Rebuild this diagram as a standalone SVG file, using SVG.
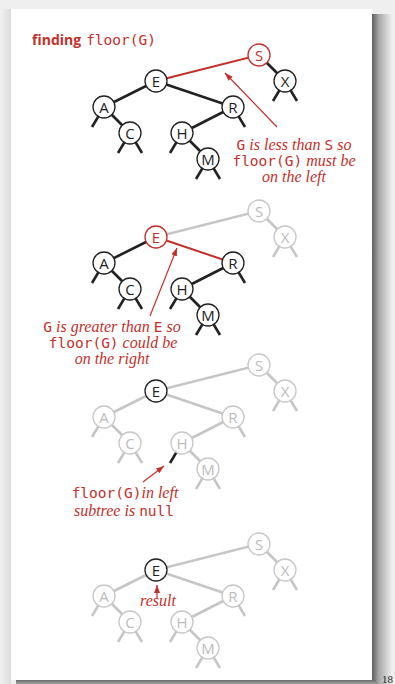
<svg xmlns="http://www.w3.org/2000/svg" width="395" height="684" viewBox="0 0 395 684">
  <defs>
    <linearGradient id="shadowRight" x1="0" y1="0" x2="1" y2="0">
      <stop offset="0" stop-color="#5e5e5e"/>
      <stop offset="0.35" stop-color="#a8a8a8"/>
      <stop offset="1" stop-color="#efefef"/>
    </linearGradient>
    <linearGradient id="shadowBottom" x1="0" y1="0" x2="0" y2="1">
      <stop offset="0" stop-color="#6a6a6a"/>
      <stop offset="1" stop-color="#a0a0a0"/>
    </linearGradient>
    <linearGradient id="shadowLeft" x1="0" y1="0" x2="1" y2="0">
      <stop offset="0" stop-color="#f0f0f0"/>
      <stop offset="1" stop-color="#dcdcdc"/>
    </linearGradient>
    <marker id="arrow" markerUnits="userSpaceOnUse" markerWidth="10" markerHeight="8" refX="8" refY="3" orient="auto">
      <path d="M0,0 L8,3 L0,6 z" fill="#c4302b"/>
    </marker>
  </defs>
  <style>
    .edge { stroke: #222; stroke-width: 2.6; fill: none; stroke-linecap: butt; }
    .edge.gray { stroke: #c6c6c6; }
    .edge.red { stroke: #c4302b; stroke-width: 2; }
    .node circle { fill: #fff; stroke: #222; stroke-width: 1.3; }
    .node text { font-family: "Open Sans", "Liberation Sans", sans-serif; font-size: 15px; fill: #222; text-anchor: middle; }
    .node.gray circle { stroke: #c8c8c8; }
    .node.gray text { fill: #bcbcbc; }
    .node.red circle { stroke: #c4302b; }
    .node.red text { fill: #c4302b; }
    .note { font-family: "Liberation Serif", serif; font-style: italic; font-size: 16px; fill: #c4302b; text-anchor: middle; }
    .mono { font-family: "DejaVu Sans Mono", "Liberation Mono", monospace; font-style: normal; font-size: 14.5px; }
    .pointer { stroke: #c4302b; stroke-width: 1.2; fill: none; marker-end: url(#arrow); }
  </style>

  <!-- page background and drop shadow -->
  <rect x="0" y="0" width="395" height="684" fill="#efefef"/>
  <rect x="0" y="9" width="11" height="675" fill="url(#shadowLeft)"/>
  <rect x="372" y="14" width="20" height="670" fill="url(#shadowRight)"/>
  <rect x="16" y="680" width="360" height="4" fill="url(#shadowBottom)"/>
  <rect x="11" y="9" width="361" height="671" fill="#fff"/>
  <text x="382" y="683" font-family="Liberation Serif, serif" font-size="11" fill="#222">18</text>

  <!-- title -->
  <text x="32" y="45" fill="#c4302b"><tspan font-family="Open Sans, Liberation Sans, sans-serif" font-weight="bold" font-size="14">finding</tspan><tspan font-family="DejaVu Sans Mono, Liberation Mono, monospace" font-size="14.5" dx="5">floor(G)</tspan></text>

  <!-- step 1: compare with root S -->
  <g id="step1">
    <g id="step1-links">
      <line class="edge red" x1="156" y1="81" x2="259" y2="55"/>
      <line class="edge" x1="259" y1="55" x2="285" y2="81"/>
      <line class="edge" x1="156" y1="81" x2="104" y2="107"/>
      <line class="edge" x1="156" y1="81" x2="233" y2="107"/>
      <line class="edge" x1="104" y1="107" x2="130" y2="133"/>
      <line class="edge" x1="233" y1="107" x2="182" y2="133"/>
      <line class="edge" x1="182" y1="133" x2="208" y2="159"/>
      <line class="edge" x1="104" y1="107" x2="92" y2="127"/>
      <line class="edge" x1="130" y1="133" x2="118" y2="153"/>
      <line class="edge" x1="130" y1="133" x2="142" y2="153"/>
      <line class="edge" x1="182" y1="133" x2="170" y2="153"/>
      <line class="edge" x1="208" y1="159" x2="196" y2="179"/>
      <line class="edge" x1="208" y1="159" x2="220" y2="179"/>
      <line class="edge" x1="233" y1="107" x2="245" y2="127"/>
      <line class="edge" x1="285" y1="81" x2="273" y2="101"/>
      <line class="edge" x1="285" y1="81" x2="297" y2="101"/>
      <line class="pointer" x1="277" y1="127" x2="225" y2="73"/>
    </g>
    <g id="s1-S" class="node red"><circle cx="259" cy="55" r="11"/><text x="259" y="60.5">S</text></g>
    <g id="s1-E" class="node"><circle cx="156" cy="81" r="11"/><text x="156" y="86.5">E</text></g>
    <g id="s1-X" class="node"><circle cx="285" cy="81" r="11"/><text x="285" y="86.5">X</text></g>
    <g id="s1-A" class="node"><circle cx="104" cy="107" r="11"/><text x="104" y="112.5">A</text></g>
    <g id="s1-R" class="node"><circle cx="233" cy="107" r="11"/><text x="233" y="112.5">R</text></g>
    <g id="s1-C" class="node"><circle cx="130" cy="133" r="11"/><text x="130" y="138.5">C</text></g>
    <g id="s1-H" class="node"><circle cx="182" cy="133" r="11"/><text x="182" y="138.5">H</text></g>
    <g id="s1-M" class="node"><circle cx="208" cy="159" r="11"/><text x="208" y="164.5">M</text></g>
    <text class="note" x="294" y="150"><tspan class="mono">G</tspan> is less than <tspan class="mono">S</tspan> so</text>
    <text class="note" x="294" y="166"><tspan class="mono">floor(G)</tspan> must be</text>
    <text class="note" x="294" y="182">on the left</text>
  </g>

  <!-- step 2: compare with E -->
  <g id="step2" transform="translate(0,156)">
    <g id="step2-links">
      <line class="edge gray" x1="156" y1="81" x2="259" y2="55"/>
      <line class="edge gray" x1="259" y1="55" x2="285" y2="81"/>
      <line class="edge" x1="156" y1="81" x2="104" y2="107"/>
      <line class="edge red" x1="156" y1="81" x2="233" y2="107"/>
      <line class="edge" x1="104" y1="107" x2="130" y2="133"/>
      <line class="edge" x1="233" y1="107" x2="182" y2="133"/>
      <line class="edge" x1="182" y1="133" x2="208" y2="159"/>
      <line class="edge" x1="104" y1="107" x2="92" y2="127"/>
      <line class="edge" x1="130" y1="133" x2="118" y2="153"/>
      <line class="edge" x1="130" y1="133" x2="142" y2="153"/>
      <line class="edge" x1="182" y1="133" x2="170" y2="153"/>
      <line class="edge" x1="208" y1="159" x2="196" y2="179"/>
      <line class="edge" x1="208" y1="159" x2="220" y2="179"/>
      <line class="edge" x1="233" y1="107" x2="245" y2="127"/>
      <line class="edge gray" x1="285" y1="81" x2="273" y2="101"/>
      <line class="edge gray" x1="285" y1="81" x2="297" y2="101"/>
      <line class="pointer" x1="150" y1="160" x2="177" y2="92"/>
    </g>
    <g id="s2-S" class="node gray"><circle cx="259" cy="55" r="11"/><text x="259" y="60.5">S</text></g>
    <g id="s2-E" class="node red"><circle cx="156" cy="81" r="11"/><text x="156" y="86.5">E</text></g>
    <g id="s2-X" class="node gray"><circle cx="285" cy="81" r="11"/><text x="285" y="86.5">X</text></g>
    <g id="s2-A" class="node"><circle cx="104" cy="107" r="11"/><text x="104" y="112.5">A</text></g>
    <g id="s2-R" class="node"><circle cx="233" cy="107" r="11"/><text x="233" y="112.5">R</text></g>
    <g id="s2-C" class="node"><circle cx="130" cy="133" r="11"/><text x="130" y="138.5">C</text></g>
    <g id="s2-H" class="node"><circle cx="182" cy="133" r="11"/><text x="182" y="138.5">H</text></g>
    <g id="s2-M" class="node"><circle cx="208" cy="159" r="11"/><text x="208" y="164.5">M</text></g>
    <text class="note" x="112" y="176"><tspan class="mono">G</tspan> is greater than <tspan class="mono">E</tspan> so</text>
    <text class="note" x="113" y="192"><tspan class="mono">floor(G)</tspan> could be</text>
    <text class="note" x="112" y="208">on the right</text>
  </g>

  <!-- step 3: left subtree of H is null -->
  <g id="step3" transform="translate(0,310)">
    <g id="step3-links">
      <line class="edge gray" x1="156" y1="81" x2="259" y2="55"/>
      <line class="edge gray" x1="259" y1="55" x2="285" y2="81"/>
      <line class="edge gray" x1="156" y1="81" x2="104" y2="107"/>
      <line class="edge gray" x1="156" y1="81" x2="233" y2="107"/>
      <line class="edge gray" x1="104" y1="107" x2="130" y2="133"/>
      <line class="edge gray" x1="233" y1="107" x2="182" y2="133"/>
      <line class="edge gray" x1="182" y1="133" x2="208" y2="159"/>
      <line class="edge gray" x1="104" y1="107" x2="92" y2="127"/>
      <line class="edge gray" x1="130" y1="133" x2="118" y2="153"/>
      <line class="edge gray" x1="130" y1="133" x2="142" y2="153"/>
      <line class="edge" x1="182" y1="133" x2="170" y2="153"/>
      <line class="edge gray" x1="208" y1="159" x2="196" y2="179"/>
      <line class="edge gray" x1="208" y1="159" x2="220" y2="179"/>
      <line class="edge gray" x1="233" y1="107" x2="245" y2="127"/>
      <line class="edge gray" x1="285" y1="81" x2="273" y2="101"/>
      <line class="edge gray" x1="285" y1="81" x2="297" y2="101"/>
      <line class="pointer" x1="143" y1="172" x2="164" y2="156"/>
    </g>
    <g id="s3-S" class="node gray"><circle cx="259" cy="55" r="11"/><text x="259" y="60.5">S</text></g>
    <g id="s3-E" class="node"><circle cx="156" cy="81" r="11"/><text x="156" y="86.5">E</text></g>
    <g id="s3-X" class="node gray"><circle cx="285" cy="81" r="11"/><text x="285" y="86.5">X</text></g>
    <g id="s3-A" class="node gray"><circle cx="104" cy="107" r="11"/><text x="104" y="112.5">A</text></g>
    <g id="s3-R" class="node gray"><circle cx="233" cy="107" r="11"/><text x="233" y="112.5">R</text></g>
    <g id="s3-C" class="node gray"><circle cx="130" cy="133" r="11"/><text x="130" y="138.5">C</text></g>
    <g id="s3-H" class="node gray"><circle cx="182" cy="133" r="11"/><text x="182" y="138.5">H</text></g>
    <g id="s3-M" class="node gray"><circle cx="208" cy="159" r="11"/><text x="208" y="164.5">M</text></g>
    <text class="note" x="125" y="188"><tspan class="mono">floor(G)</tspan>in left</text>
    <text class="note" x="124" y="206">subtree is <tspan class="mono">null</tspan></text>
  </g>

  <!-- step 4: E is the result -->
  <g id="step4" transform="translate(0,489)">
    <g id="step4-links">
      <line class="edge gray" x1="156" y1="81" x2="259" y2="55"/>
      <line class="edge gray" x1="259" y1="55" x2="285" y2="81"/>
      <line class="edge gray" x1="156" y1="81" x2="104" y2="107"/>
      <line class="edge gray" x1="156" y1="81" x2="233" y2="107"/>
      <line class="edge gray" x1="104" y1="107" x2="130" y2="133"/>
      <line class="edge gray" x1="233" y1="107" x2="182" y2="133"/>
      <line class="edge gray" x1="182" y1="133" x2="208" y2="159"/>
      <line class="edge gray" x1="104" y1="107" x2="92" y2="127"/>
      <line class="edge gray" x1="130" y1="133" x2="118" y2="153"/>
      <line class="edge gray" x1="130" y1="133" x2="142" y2="153"/>
      <line class="edge gray" x1="182" y1="133" x2="170" y2="153"/>
      <line class="edge gray" x1="208" y1="159" x2="196" y2="179"/>
      <line class="edge gray" x1="208" y1="159" x2="220" y2="179"/>
      <line class="edge gray" x1="233" y1="107" x2="245" y2="127"/>
      <line class="edge gray" x1="285" y1="81" x2="273" y2="101"/>
      <line class="edge gray" x1="285" y1="81" x2="297" y2="101"/>
      <line class="pointer" x1="157" y1="109" x2="157" y2="96"/>
    </g>
    <g id="s4-S" class="node gray"><circle cx="259" cy="55" r="11"/><text x="259" y="60.5">S</text></g>
    <g id="s4-E" class="node"><circle cx="156" cy="81" r="11"/><text x="156" y="86.5">E</text></g>
    <g id="s4-X" class="node gray"><circle cx="285" cy="81" r="11"/><text x="285" y="86.5">X</text></g>
    <g id="s4-A" class="node gray"><circle cx="104" cy="107" r="11"/><text x="104" y="112.5">A</text></g>
    <g id="s4-R" class="node gray"><circle cx="233" cy="107" r="11"/><text x="233" y="112.5">R</text></g>
    <g id="s4-C" class="node gray"><circle cx="130" cy="133" r="11"/><text x="130" y="138.5">C</text></g>
    <g id="s4-H" class="node gray"><circle cx="182" cy="133" r="11"/><text x="182" y="138.5">H</text></g>
    <g id="s4-M" class="node gray"><circle cx="208" cy="159" r="11"/><text x="208" y="164.5">M</text></g>
    <text class="note" x="158" y="117">result</text>
  </g>
</svg>
